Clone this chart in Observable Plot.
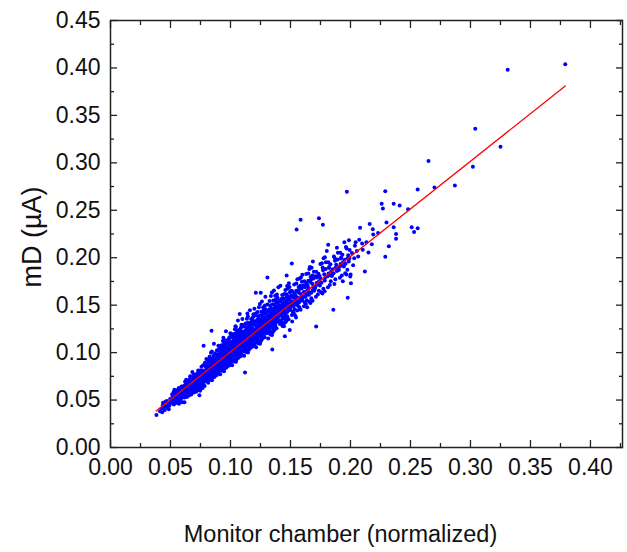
<!DOCTYPE html>
<html>
<head>
<meta charset="utf-8">
<script src="https://cdn.jsdelivr.net/npm/d3@7"></script>
<script src="https://cdn.jsdelivr.net/npm/@observablehq/plot@0.6"></script>
<style>
  html, body { margin: 0; padding: 0; background: #fff; }
  #chart { width: 627px; height: 552px; }
</style>
</head>
<body>
<div id="chart"></div>
<script>
// ---- data ----
const xLabel = "Monitor chamber (normalized)";
const yLabel = "mD (\u00B5A)";
const xTicks = [0, 0.05, 0.10, 0.15, 0.20, 0.25, 0.30, 0.35, 0.40];
const xMinorTicks = [0.025, 0.075, 0.125, 0.175, 0.225, 0.275, 0.325, 0.375, 0.425];
const yTicks = [0, 0.05, 0.10, 0.15, 0.20, 0.25, 0.30, 0.35, 0.40, 0.45];
const yMinorTicks = [0.025, 0.075, 0.125, 0.175, 0.225, 0.275, 0.325, 0.375, 0.425];

// linear fit (red)
const fitLine = [[0.038, 0.0385], [0.379, 0.381]];

// measured points [monitor, mD]
const cloud035to060 = [
[0.0383,0.0342],[0.0412,0.0381],[0.0431,0.0372],[0.0424,0.0409],[0.0438,0.0471],[0.0452,0.0394],[0.0463,0.0437],[0.0474,0.0418],[0.0483,0.0462],[0.0469,0.0489],[0.0491,0.0441],[0.0497,0.0512],[0.0447,0.0428],[0.0486,0.0402],[0.0503,0.0478],[0.0436,0.0445],[0.0458,0.0481],
[0.0512,0.0468],[0.0517,0.0534],[0.0523,0.0497],[0.0528,0.0452],[0.0531,0.0553],[0.0536,0.0489],[0.0542,0.0521],[0.0547,0.0578],[0.0551,0.0483],[0.0553,0.0542],[0.0558,0.0607],[0.0561,0.0511],[0.0566,0.0558],[0.0569,0.0627],[0.0572,0.0532],[0.0574,0.0494],[0.0577,0.0589],[0.0581,0.0547],[0.0583,0.0618],[0.0586,0.0512],[0.0589,0.0571],[0.0592,0.0643],[0.0594,0.0528],[0.0597,0.0583],[0.0599,0.0477],[0.0526,0.0586],[0.0544,0.0468],[0.0533,0.0608],[0.0571,0.0462],[0.0556,0.0572],[0.0579,0.0593],[0.0563,0.0471],[0.0591,0.0602],[0.0514,0.0561],[0.0598,0.0622]
];
const cloud060to080 = [
[0.0612,0.0571],[0.0634,0.0648],[0.0657,0.0592],[0.0608,0.0635],[0.0681,0.0703],[0.0623,0.0546],[0.0695,0.0662],[0.0641,0.0609],[0.0666,0.0688],[0.0615,0.0527],[0.0688,0.0627],[0.0649,0.0671],[0.0673,0.0558],[0.0602,0.0596],[0.0629,0.0683],[0.0691,0.0741],[0.0655,0.0634],[0.0618,0.0612],[0.0677,0.0649],[0.0643,0.0575],[0.0699,0.0698],[0.0626,0.0657],[0.0661,0.0721],[0.0684,0.0587],[0.0637,0.0532],[0.0605,0.0558],[0.0652,0.0615],[0.0693,0.0772],[0.0668,0.0646],[0.0621,0.0692],[0.0647,0.0704],[0.0675,0.0681],[0.0611,0.0648],[0.0686,0.0714],[0.0633,0.0591],[0.0659,0.0567],[0.0697,0.0634],[0.0645,0.0638],[0.0671,0.0609],[0.0627,0.0624],[0.0689,0.0653],[0.0616,0.0478],[0.0664,0.0752],[0.0639,0.0663],[0.0682,0.0796],[0.0654,0.0549],[0.0606,0.0601],[0.0694,0.0579],[0.0631,0.0713],[0.0679,0.0672],
[0.0704,0.0662],[0.0721,0.0718],[0.0745,0.0689],[0.0712,0.0613],[0.0768,0.0741],[0.0733,0.0776],[0.0789,0.0703],[0.0756,0.0652],[0.0717,0.0685],[0.0798,0.0829],[0.0741,0.0551],[0.0762,0.0795],[0.0727,0.0634],[0.0783,0.0758],[0.0709,0.0729],[0.0752,0.0727],[0.0775,0.0668],[0.0738,0.0703],[0.0794,0.0781],[0.0715,0.0759],[0.0766,0.0624],[0.0729,0.0697],[0.0787,0.0892],[0.0748,0.0812],[0.0702,0.0598],[0.0776,0.1071],[0.0736,0.0657],[0.0759,0.0709],[0.0791,0.0734],[0.0723,0.0746],[0.0771,0.0779],[0.0743,0.0735],[0.0707,0.0681],[0.0784,0.0647],[0.0754,0.0688],[0.0731,0.0812],[0.0796,0.0706],[0.0718,0.0649],[0.0764,0.0757],[0.0739,0.0621],[0.0781,0.0803],[0.0711,0.0702],[0.0758,0.0851],[0.0725,0.0672],[0.0773,0.0694],[0.0749,0.0763],[0.0799,0.0932],[0.0714,0.0587],[0.0769,0.0722],[0.0735,0.0734],[0.0786,0.0721],[0.0747,0.0598],[0.0706,0.0768],[0.0761,0.0675],[0.0728,0.0739],[0.0793,0.0857],[0.0753,0.0746],[0.0719,0.0712],[0.0778,0.0739],[0.0742,0.0785],[0.0701,0.0643],[0.0766,0.0811],[0.0734,0.0605],[0.0788,0.0776],[0.0757,0.0632],[0.0724,0.0782],[0.0797,0.0752],[0.0745,0.0664],[0.0772,0.0866],[0.0713,0.0738]
];
const cloud080to100 = [
[0.0804,0.0773],[0.0823,0.0841],[0.0847,0.0796],[0.0812,0.0718],[0.0869,0.0902],[0.0835,0.0867],[0.0886,0.0824],[0.0858,0.0759],[0.0817,0.0809],[0.0895,0.0951],[0.0842,0.1231],[0.0863,0.0878],[0.0828,0.0735],[0.0881,0.0867],[0.0809,0.0862],[0.0851,0.0838],[0.0874,0.0781],[0.0838,0.0821],[0.0893,0.0905],[0.0815,0.0893],[0.0866,0.0743],[0.0829,0.0802],[0.0887,0.1024],[0.0849,0.0938],[0.0802,0.0697],[0.0876,0.0981],[0.0836,0.0768],[0.0859,0.0814],[0.0891,0.0846],[0.0822,0.0852],[0.0871,0.0889],[0.0843,0.0857],[0.0807,0.0791],[0.0884,0.0762],[0.0854,0.0798],[0.0831,0.0928],[0.0897,0.0817],[0.0818,0.0755],[0.0864,0.0873],[0.0839,0.0726],[0.0882,0.0914],[0.0811,0.0813],[0.0857,0.0965],[0.0825,0.0784],[0.0873,0.0805],[0.0848,0.0882],[0.0899,0.1072],[0.0814,0.0682],[0.0868,0.0837],[0.0834,0.0849],[0.0885,0.0834],[0.0846,0.0708],[0.0806,0.0882],[0.0861,0.0786],[0.0827,0.0851],[0.0892,0.0978],[0.0853,0.0861],[0.0819,0.0827],[0.0878,0.0852],[0.0841,0.0904],[0.0801,0.0751],[0.0866,0.0929],[0.0833,0.0713],[0.0889,0.0891],[0.0856,0.0741],[0.0824,0.0897],[0.0896,0.0869],[0.0844,0.0775],[0.0872,0.0992],[0.0813,0.0846],[0.0862,0.1093],[0.0837,0.0998],[0.0879,0.0802],[0.0808,0.0924],[0.0851,0.0737],[0.0894,0.0813],[0.0826,0.0956],[0.0869,0.0759],[0.0845,0.1011],[0.0816,0.0777],[0.0883,0.0943],[0.0858,0.0886],[0.0832,0.0831],[0.0898,0.0897],[0.0821,0.0764],[0.0876,0.0818],[0.0803,0.0809],[0.0865,0.0845],[0.0839,0.0872],[0.0888,0.0787],
[0.0903,0.0874],[0.0921,0.0951],[0.0945,0.0897],[0.0912,0.0816],[0.0968,0.1032],[0.0933,0.0978],[0.0986,0.0931],[0.0956,0.0858],[0.0917,0.0912],[0.0995,0.1073],[0.0941,0.1156],[0.0962,0.0993],[0.0928,0.0834],[0.0981,0.0979],[0.0909,0.0968],[0.0952,0.0946],[0.0974,0.0884],[0.0938,0.0927],[0.0993,0.1018],[0.0915,0.1004],[0.0966,0.0843],[0.0929,0.0906],[0.0987,0.1142],[0.0949,0.1051],[0.0902,0.0789],[0.0976,0.1098],[0.0936,0.0867],[0.0959,0.0919],[0.0991,0.0952],[0.0922,0.0961],[0.0971,0.1003],[0.0943,0.0968],[0.0907,0.0893],[0.0984,0.0861],[0.0954,0.0902],[0.0931,0.1046],[0.0997,0.0924],[0.0918,0.0853],[0.0964,0.0985],[0.0939,0.0821],[0.0982,0.1029],[0.0911,0.0918],[0.0957,0.1087],[0.0925,0.0885],[0.0973,0.0911],[0.0948,0.0996],[0.0999,0.1203],[0.0914,0.0772],[0.0968,0.0944],[0.0934,0.0958],[0.0985,0.0939],[0.0946,0.0804],[0.0906,0.0995],[0.0961,0.0888],[0.0927,0.0962],[0.0992,0.1101],[0.0953,0.0973],[0.0919,0.0934],[0.0978,0.0961],[0.0941,0.1017],[0.0901,0.0849],[0.0966,0.1049],[0.0933,0.0808],[0.0989,0.1006],[0.0956,0.0841],[0.0924,0.1012],[0.0996,0.0981],[0.0944,0.0876],[0.0972,0.1117],[0.0913,0.0955],[0.0962,0.1224],[0.0937,0.1123],[0.0979,0.0904],[0.0908,0.1042],[0.0951,0.0832],[0.0994,0.0917],[0.0926,0.1077],[0.0969,0.0857],[0.0945,0.1138],[0.0916,0.0879],[0.0983,0.1064],[0.0958,0.0998],[0.0932,0.0938],[0.0998,0.1013],[0.0921,0.0862],[0.0976,0.0924],[0.0903,0.0912],[0.0965,0.0952],[0.0939,0.0982],[0.0988,0.0888],[0.0947,0.0929],[0.0911,0.1061],[0.0973,0.1071],[0.0929,0.0986],[0.0991,0.1162],[0.0955,0.0944],[0.0918,0.0817],[0.0981,0.0997],[0.0942,0.1079],[0.0905,0.0926],[0.0963,0.1021],[0.0935,0.0899],[0.0986,0.1048],[0.0952,0.1105],[0.0923,0.0947],[0.0997,0.0869],[0.0959,0.0972],[0.0914,0.0989],[0.0977,0.1133],[0.0944,0.0943]
];
const cloud100to120 = [
[0.1003,0.0984],[0.1021,0.1058],[0.1045,0.1003],[0.1012,0.0918],[0.1068,0.1142],[0.1033,0.1088],[0.1086,0.1036],[0.1056,0.0957],[0.1017,0.1021],[0.1095,0.1187],[0.1041,0.1279],[0.1062,0.1104],[0.1028,0.0934],[0.1081,0.1091],[0.1009,0.1075],[0.1052,0.1052],[0.1074,0.0987],[0.1038,0.1032],[0.1093,0.1128],[0.1015,0.1114],[0.1066,0.0947],[0.1029,0.1012],[0.1087,0.1263],[0.1049,0.1168],[0.1002,0.0883],[0.1076,0.1215],[0.1036,0.0968],[0.1059,0.1023],[0.1091,0.1061],[0.1022,0.1069],[0.1071,0.1114],[0.1043,0.1075],[0.1007,0.0997],[0.1084,0.0962],[0.1054,0.1008],[0.1031,0.1161],[0.1097,0.1032],[0.1018,0.0954],[0.1064,0.1096],[0.1039,0.0921],[0.1082,0.1145],[0.1011,0.1022],[0.1057,0.1204],[0.1025,0.0989],[0.1073,0.1018],[0.1048,0.1107],[0.1099,0.1353],[0.1014,0.0868],[0.1068,0.1053],[0.1034,0.1067],[0.1085,0.1046],[0.1046,0.0904],[0.1006,0.1109],[0.1061,0.0993],[0.1027,0.1071],[0.1092,0.1224],[0.1053,0.1083],[0.1019,0.1043],[0.1078,0.1072],[0.1041,0.1131],[0.1001,0.0948],[0.1066,0.1166],[0.1033,0.0906],[0.1089,0.1117],[0.1056,0.0941],[0.1024,0.1124],[0.1096,0.1092],[0.1044,0.0978],[0.1072,0.1242],[0.1013,0.1062],[0.1062,0.1338],[0.1037,0.1247],[0.1079,0.1009],[0.1008,0.1161],[0.1051,0.0931],[0.1094,0.1024],[0.1026,0.1196],[0.1069,0.0956],[0.1045,0.1273],[0.1016,0.0981],[0.1083,0.1183],[0.1058,0.1111],[0.1032,0.1048],[0.1098,0.1125],[0.1021,0.0962],[0.1076,0.1031],[0.1003,0.1018],[0.1065,0.1063],[0.1039,0.1094],[0.1088,0.0991],[0.1047,0.1036],[0.1011,0.1183],[0.1073,0.1188],[0.1029,0.1098],[0.1091,0.1294],[0.1055,0.1052],[0.1018,0.0912],[0.1081,0.1108],[0.1042,0.1201],[0.1005,0.1033],[0.1063,0.1138],[0.1035,0.1004],[0.1086,0.1167],[0.1052,0.1232],[0.1023,0.1057],[0.1097,0.0973],[0.1059,0.1082],[0.1014,0.1101],[0.1077,0.1407],[0.1044,0.1052],
[0.1103,0.1087],[0.1121,0.1163],[0.1145,0.1106],[0.1112,0.1015],[0.1168,0.1251],[0.1133,0.1196],[0.1186,0.1142],[0.1156,0.1059],[0.1117,0.1125],[0.1195,0.1297],[0.1141,0.1412],[0.1162,0.1213],[0.1128,0.1036],[0.1181,0.1198],[0.1109,0.1182],[0.1152,0.1158],[0.1174,0.1089],[0.1138,0.1136],[0.1193,0.1238],[0.1115,0.1221],[0.1166,0.1048],[0.1129,0.1117],[0.1187,0.1372],[0.1149,0.1277],[0.1121,0.0791],[0.1176,0.1325],[0.1136,0.1069],[0.1159,0.1127],[0.1191,0.1168],[0.1122,0.1176],[0.1171,0.1222],[0.1143,0.1182],[0.1107,0.1101],[0.1184,0.1064],[0.1154,0.1111],[0.1131,0.1268],[0.1197,0.1138],[0.1118,0.1052],[0.1164,0.1203],[0.1139,0.1021],[0.1182,0.1256],[0.1111,0.1128],[0.1157,0.1312],[0.1125,0.1092],[0.1173,0.1123],[0.1148,0.1215],[0.1199,0.1463],[0.1114,0.0968],[0.1168,0.1161],[0.1134,0.1174],[0.1185,0.1153],[0.1146,0.1002],[0.1106,0.1216],[0.1161,0.1096],[0.1127,0.1178],[0.1192,0.1334],[0.1153,0.1192],[0.1119,0.1147],[0.1178,0.1179],[0.1141,0.1241],[0.1101,0.1047],[0.1166,0.1276],[0.1133,0.1006],[0.1189,0.1227],[0.1156,0.1039],[0.1124,0.1232],[0.1196,0.1201],[0.1144,0.1078],[0.1172,0.1354],[0.1113,0.1169],[0.1162,0.1447],[0.1137,0.1356],[0.1179,0.1112],[0.1108,0.1274],[0.1151,0.1028],[0.1194,0.1129],[0.1126,0.1306],[0.1169,0.1059],[0.1145,0.1384],[0.1116,0.1083],[0.1183,0.1293],[0.1158,0.1219],[0.1132,0.1153],[0.1198,0.1236],[0.1121,0.1066],[0.1176,0.1138],[0.1103,0.1121],[0.1165,0.1168],[0.1139,0.1204],[0.1188,0.1096],[0.1147,0.1143],[0.1111,0.1292],[0.1173,0.1297],[0.1129,0.1207],[0.1191,0.1403],[0.1155,0.1162],[0.1118,0.1011],[0.1181,0.1219],[0.1142,0.1313],[0.1105,0.1141]
];
const cloud120to140 = [
[0.1203,0.1186],[0.1221,0.1267],[0.1245,0.1208],[0.1212,0.1112],[0.1268,0.1362],[0.1233,0.1304],[0.1286,0.1247],[0.1256,0.1159],[0.1217,0.1228],[0.1295,0.1412],[0.1211,0.1631],[0.1262,0.1322],[0.1228,0.1133],[0.1281,0.1306],[0.1209,0.1289],[0.1252,0.1263],[0.1274,0.1188],[0.1238,0.1241],[0.1293,0.1349],[0.1215,0.1328],[0.1266,0.1146],[0.1229,0.1219],[0.1287,0.1496],[0.1249,0.1393],[0.1202,0.1082],[0.1276,0.1443],[0.1236,0.1168],[0.1259,0.1231],[0.1291,0.1276],[0.1222,0.1284],[0.1271,0.1334],[0.1243,0.1289],[0.1207,0.1201],[0.1284,0.1162],[0.1254,0.1212],[0.1231,0.1383],[0.1297,0.1242],[0.1218,0.1148],[0.1264,0.1312],[0.1239,0.1113],[0.1282,0.1372],[0.1211,0.1231],[0.1257,0.1431],[0.1225,0.1193],[0.1273,0.1226],[0.1248,0.1327],[0.1252,0.1632],[0.1214,0.1057],[0.1268,0.1268],[0.1234,0.1281],[0.1285,0.1258],[0.1246,0.1094],[0.1206,0.1327],[0.1261,0.1197],[0.1227,0.1286],[0.1292,0.1457],[0.1253,0.1301],[0.1219,0.1253],[0.1278,0.1287],[0.1241,0.1355],[0.1201,0.1143],[0.1266,0.1394],[0.1233,0.1099],[0.1289,0.1341],[0.1256,0.1134],[0.1224,0.1346],[0.1296,0.1312],[0.1244,0.1177],[0.1272,0.1478],[0.1213,0.1277],[0.1262,0.1539],[0.1237,0.1478],[0.1279,0.1216],[0.1208,0.1392],[0.1251,0.1121],[0.1294,0.1233],[0.1226,0.1427],[0.1269,0.1157],[0.1245,0.1512],[0.1216,0.1183],[0.1283,0.1412],[0.1258,0.1331],[0.1232,0.1261],[0.1298,0.1351],[0.1221,0.1164],[0.1276,0.1243],[0.1203,0.1224],[0.1265,0.1274],[0.1239,0.1316],[0.1288,0.1198],[0.1247,0.1248],[0.1211,0.1411],[0.1273,0.1417],[0.1229,0.1318],[0.1291,0.1588],
[0.1303,0.1284],[0.1321,0.1371],[0.1345,0.1311],[0.1312,0.1206],[0.1368,0.1473],[0.1333,0.1412],[0.1386,0.1352],[0.1356,0.1253],[0.1317,0.1331],[0.1395,0.1524],[0.1308,0.1792],[0.1362,0.1431],[0.1328,0.1226],[0.1381,0.1413],[0.1309,0.1394],[0.1352,0.1368],[0.1374,0.1284],[0.1338,0.1344],[0.1393,0.1459],[0.1315,0.1438],[0.1366,0.1239],[0.1329,0.1318],[0.1387,0.1613],[0.1349,0.1506],[0.1348,0.1032],[0.1376,0.1558],[0.1336,0.1262],[0.1359,0.1333],[0.1391,0.1381],[0.1322,0.1389],[0.1371,0.1444],[0.1343,0.1393],[0.1307,0.1297],[0.1384,0.1257],[0.1354,0.1311],[0.1331,0.1496],[0.1397,0.1346],[0.1318,0.1241],[0.1364,0.1421],[0.1339,0.1204],[0.1382,0.1486],[0.1311,0.1332],[0.1357,0.1548],[0.1325,0.1291],[0.1373,0.1327],[0.1348,0.1436],[0.1399,0.1689],[0.1314,0.1149],[0.1368,0.1371],[0.1334,0.1386],[0.1385,0.1362],[0.1346,0.1186],[0.1306,0.1436],[0.1361,0.1296],[0.1327,0.1392],[0.1392,0.1577],[0.1353,0.1409],[0.1319,0.1358],[0.1378,0.1393],[0.1341,0.1466],[0.1301,0.1238],[0.1366,0.1508],[0.1333,0.1192],[0.1389,0.1451],[0.1356,0.1228],[0.1324,0.1457],[0.1396,0.1421],[0.1344,0.1274],[0.1372,0.1599],[0.1313,0.1382],[0.1362,0.1655],[0.1337,0.1597],[0.1379,0.1316],[0.1308,0.1506],[0.1351,0.1214],[0.1394,0.1336],[0.1326,0.1543],[0.1369,0.1252],[0.1345,0.1634],[0.1316,0.1281],[0.1383,0.1527],[0.1358,0.1441],[0.1332,0.1364],[0.1398,0.1461],[0.1321,0.1261]
];
const cloud140to170 = [
[0.1403,0.1382],[0.1421,0.1474],[0.1445,0.1411],[0.1412,0.1301],[0.1468,0.1583],[0.1433,0.1518],[0.1486,0.1452],[0.1456,0.1349],[0.1417,0.1431],[0.1495,0.1636],[0.1468,0.1812],[0.1462,0.1538],[0.1428,0.1321],[0.1481,0.1516],[0.1409,0.1496],[0.1452,0.1471],[0.1474,0.1381],[0.1438,0.1446],[0.1493,0.1568],[0.1415,0.1542],[0.1466,0.1334],[0.1429,0.1417],[0.1487,0.1731],[0.1449,0.1617],[0.1453,0.1172],[0.1476,0.1672],[0.1436,0.1359],[0.1459,0.1434],[0.1491,0.1486],[0.1422,0.1492],[0.1471,0.1551],[0.1443,0.1498],[0.1407,0.1394],[0.1484,0.1352],[0.1454,0.1411],[0.1431,0.1606],[0.1497,0.1448],[0.1418,0.1338],[0.1464,0.1527],[0.1439,0.1297],[0.1482,0.1594],[0.1411,0.1435],[0.1457,0.1661],[0.1425,0.1389],[0.1473,0.1428],[0.1448,0.1544],[0.1416,0.1705],[0.1494,0.1239],[0.1468,0.1473],[0.1434,0.1489],[0.1485,0.1463],[0.1446,0.1278],[0.1406,0.1547],[0.1461,0.1394],[0.1427,0.1497],[0.1492,0.1691],[0.1453,0.1511],[0.1419,0.1459],[0.1478,0.1497],[0.1441,0.1572],[0.1401,0.1331],[0.1466,0.1616],[0.1433,0.1281],[0.1489,0.1558],[0.1456,0.1318],[0.1424,0.1564],[0.1496,0.1523],[0.1444,0.1369],[0.1472,0.1703],[0.1413,0.1484],
[0.1503,0.1478],[0.1521,0.1581],[0.1545,0.1512],[0.1512,0.1397],[0.1568,0.1692],[0.1533,0.1624],[0.1586,0.1557],[0.1556,0.1443],[0.1517,0.1532],[0.1595,0.1748],[0.1511,0.1938],[0.1562,0.1646],[0.1528,0.1418],[0.1581,0.1622],[0.1509,0.1601],[0.1552,0.1574],[0.1574,0.1479],[0.1538,0.1549],[0.1593,0.1676],[0.1515,0.1647],[0.1551,0.2297],[0.1529,0.1519],[0.1587,0.1792],[0.1549,0.1728],[0.1584,0.2401],[0.1576,0.1782],[0.1536,0.1457],[0.1559,0.1538],[0.1591,0.1593],[0.1522,0.1599],[0.1571,0.1662],[0.1543,0.1603],[0.1507,0.1493],[0.1584,0.1452],[0.1554,0.1511],[0.1531,0.1718],[0.1597,0.1552],[0.1518,0.1434],[0.1564,0.1636],[0.1539,0.1392],[0.1582,0.1705],[0.1511,0.1538],[0.1557,0.1772],[0.1525,0.1489],[0.1573,0.1532],[0.1548,0.1651],[0.1599,0.1821],[0.1514,0.1328],[0.1568,0.1578],[0.1534,0.1593],[0.1585,0.1566],[0.1546,0.1371],[0.1506,0.1652],[0.1561,0.1496],[0.1527,0.1602],
[0.1603,0.1577],[0.1621,0.1688],[0.1645,0.1612],[0.1612,0.1489],[0.1668,0.1796],[0.1633,0.1731],[0.1686,0.1659],[0.1656,0.1538],[0.1617,0.1633],[0.1695,0.1852],[0.1662,0.1901],[0.1628,0.1512],[0.1681,0.1727],[0.1609,0.1706],[0.1652,0.1678],[0.1674,0.1574],[0.1638,0.1652],[0.1693,0.1782],[0.1615,0.1752],[0.1666,0.1523],[0.1629,0.1618],[0.1687,0.1959],[0.1649,0.1833],[0.1676,0.1895],[0.1636,0.1552],[0.1659,0.1637],[0.1691,0.1694],[0.1622,0.1703],[0.1671,0.1768],[0.1643,0.1708],[0.1607,0.1592],[0.1684,0.1546],[0.1654,0.1611],[0.1631,0.1829],[0.1697,0.1652],[0.1618,0.1531],[0.1664,0.1744],[0.1639,0.1478],[0.1682,0.1812],[0.1611,0.1638],[0.1657,0.1881],[0.1625,0.1588],[0.1673,0.1632],[0.1648,0.1757],[0.1699,0.1686]
];
const cloud170to220 = [
[0.1703,0.1676],[0.1714,0.1276],[0.1721,0.1792],[0.1745,0.1708],[0.1712,0.1588],[0.1768,0.1897],[0.1733,0.1831],[0.1786,0.1759],[0.1756,0.1637],[0.1737,0.2415],[0.1717,0.1733],[0.1795,0.1952],[0.1762,0.1942],[0.1728,0.1612],[0.1770,0.2348],[0.1781,0.1827],[0.1709,0.1806],[0.1752,0.1778],[0.1774,0.1674],[0.1738,0.1752],[0.1793,0.1882],[0.1715,0.1852],[0.1766,0.1623],[0.1729,0.1718],[0.1787,0.2004],[0.1749,0.1933],[0.1776,0.1995],[0.1736,0.1652],[0.1759,0.1737],[0.1791,0.1794],[0.1722,0.1803],[0.1771,0.1868],[0.1743,0.1808],[0.1707,0.1692],[0.1784,0.1646],
[0.1803,0.2071],[0.1814,0.2138],[0.1821,0.1892],[0.1845,0.1808],[0.1812,0.1688],[0.1868,0.1997],[0.1833,0.1931],[0.1886,0.1859],[0.1857,0.1453],[0.1817,0.1833],[0.1895,0.2052],[0.1862,0.2012],[0.1828,0.1712],[0.1881,0.1927],[0.1809,0.1806],[0.1852,0.1878],[0.1874,0.1774],[0.1838,0.1852],[0.1893,0.1982],[0.1815,0.1952],[0.1866,0.1723],[0.1829,0.1818],[0.1887,0.2104],[0.1849,0.1823],[0.1876,0.1895],[0.1836,0.1752],[0.1859,0.1837],[0.1891,0.1894],[0.1822,0.1903],[0.1871,0.1968],
[0.1903,0.1871],[0.1921,0.1992],[0.1945,0.1908],[0.1912,0.1788],[0.1968,0.2097],[0.1933,0.2031],[0.1986,0.1959],[0.1956,0.1837],[0.1917,0.1933],[0.1977,0.1579],[0.1970,0.2696],[0.1962,0.2112],[0.1928,0.1812],[0.1981,0.2027],[0.1909,0.1906],[0.1952,0.1978],[0.1974,0.1874],[0.1938,0.1952],[0.1993,0.2082],[0.1915,0.2052],[0.1966,0.1823],[0.1929,0.1918],[0.1987,0.2184],[0.1949,0.2163],[0.1976,0.1995],[0.1936,0.1752],[0.1959,0.1937],[0.1991,0.1994],[0.1922,0.2003],[0.1998,0.1803],
[0.2004,0.1731],[0.2001,0.1822],[0.2037,0.2126],[0.2073,0.2190],[0.2097,0.2150],[0.2080,0.2315],[0.2120,0.1856],[0.2150,0.2056],[0.2160,0.2356],[0.2190,0.2245],[0.2186,0.2300],
[0.2012,0.2051],[0.2031,0.1994],[0.2053,0.2072],[0.2022,0.1921],[0.2064,0.2013],[0.2043,0.2162],[0.2102,0.2083],[0.2133,0.2164],[0.2178,0.2142]
];
const outliers = [
[0.223,0.226],[0.226,0.257],[0.227,0.252],[0.229,0.201],[0.229,0.270],[0.230,0.237],[0.232,0.212],[0.236,0.257],[0.236,0.232],[0.238,0.225],[0.238,0.220],[0.241,0.255],[0.248,0.251],[0.251,0.232],[0.253,0.227],[0.256,0.231],[0.256,0.272],[0.265,0.302],[0.270,0.274],[0.287,0.276],[0.302,0.296],[0.304,0.336],[0.325,0.317],[0.331,0.398],[0.379,0.404]
];

const points = [...cloud035to060, ...cloud060to080, ...cloud080to100, ...cloud100to120,
  ...cloud120to140, ...cloud140to170, ...cloud170to220, ...outliers].map(([x, y]) => ({x, y}));
const fit = fitLine.map(([x, y]) => ({x, y}));

const font = "'Liberation Sans', Arial, Helvetica, sans-serif";
const frameColor = "#222";
const xMax = 0.4267;

const chart = Plot.plot({
  width: 627,
  height: 552,
  marginLeft: 110,
  marginRight: 5,
  marginTop: 20,
  marginBottom: 105,
  style: {fontFamily: font, color: "#111", background: "#fff"},
  x: {domain: [0, xMax], axis: null},
  y: {domain: [0, 0.45], axis: null},
  marks: [
    Plot.dot(points, {x: "x", y: "y", r: 2.0, fill: "#0000ff", stroke: "none"}),
    Plot.line(fit, {x: "x", y: "y", stroke: "#ff0000", strokeWidth: 1.3}),
    Plot.frame({stroke: frameColor, strokeWidth: 1.5}),
    // bottom axis with labels
    Plot.axisX(xTicks, {anchor: "bottom", tickSize: -7, tickPadding: 18, strokeWidth: 1.3, stroke: frameColor,
      tickFormat: d3.format(".2f"), fontSize: 23, label: null}),
    Plot.axisX(xMinorTicks.filter(d => d < xMax), {anchor: "bottom", tickSize: -4, strokeWidth: 1.3, stroke: frameColor, fill: "none", label: null}),
    Plot.axisX(xTicks, {anchor: "top", tickSize: -7, strokeWidth: 1.3, stroke: frameColor, fill: "none", label: null}),
    Plot.axisX(xMinorTicks.filter(d => d < xMax), {anchor: "top", tickSize: -4, strokeWidth: 1.3, stroke: frameColor, fill: "none", label: null}),
    // left axis with labels
    Plot.axisY(yTicks, {anchor: "left", tickSize: -7, tickPadding: 17, strokeWidth: 1.3, stroke: frameColor,
      tickFormat: d3.format(".2f"), fontSize: 23, label: null}),
    Plot.axisY(yMinorTicks, {anchor: "left", tickSize: -4, strokeWidth: 1.3, stroke: frameColor, fill: "none", label: null}),
    Plot.axisY(yTicks, {anchor: "right", tickSize: -7, strokeWidth: 1.3, stroke: frameColor, fill: "none", label: null}),
    Plot.axisY(yMinorTicks, {anchor: "right", tickSize: -4, strokeWidth: 1.3, stroke: frameColor, fill: "none", label: null}),
    // titles
    Plot.text([xLabel], {frameAnchor: "bottom", dx: -26, dy: 87, fontSize: 23.5, textAnchor: "middle", lineAnchor: "middle", fill: "#111"}),
    Plot.text([yLabel], {frameAnchor: "left", dx: -78, dy: 3, rotate: -90, fontSize: 27, textAnchor: "middle", lineAnchor: "middle", fill: "#111"})
  ]
});
document.getElementById("chart").appendChild(chart);
</script>
</body>
</html>
